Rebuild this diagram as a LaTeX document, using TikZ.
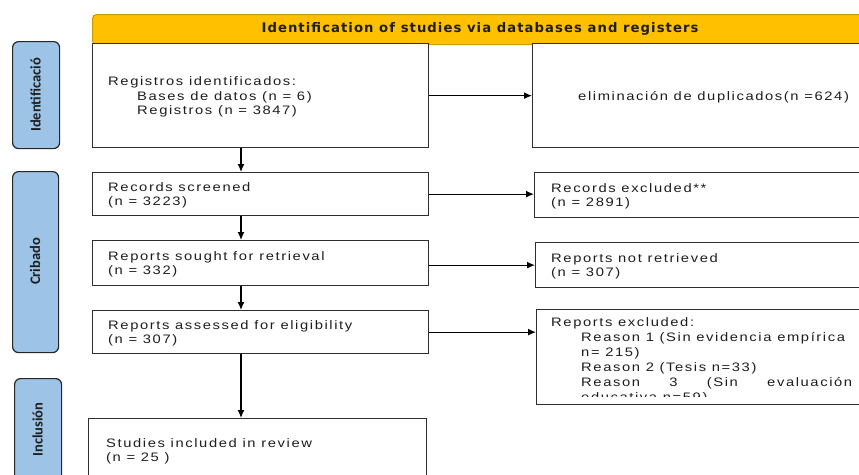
\documentclass[tikz,border=0pt]{standalone}
\usepackage{fontspec}
\setmainfont{Liberation Sans}
\newfontfamily\bodyf[LetterSpace=13,FakeStretch=1.2]{Liberation Sans}
\newfontfamily\headf[LetterSpace=8]{DejaVu Sans}
\newfontfamily\sidef{Carlito}
\usetikzlibrary{arrows.meta}
\definecolor{hdr}{HTML}{FFC000}
\definecolor{hdrb}{HTML}{C89B00}
\definecolor{sidec}{HTML}{9DC3E6}
\definecolor{bord}{HTML}{2E2E2E}
\definecolor{ink}{HTML}{1E1E1E}
\tikzset{
 boxst/.style={draw=bord, line width=1.3pt, fill=white, inner sep=0pt, anchor=north west},
 sidest/.style={draw=black!85, line width=1.2pt, fill=sidec, rounded corners=6pt, inner sep=0pt, anchor=north west},
 txt/.style={font=\bodyf\fontsize{12.3}{14}\selectfont, text=ink, inner sep=0pt, anchor=base west},
 arr/.style={-{Latex[length=8pt,width=7pt]}, line width=1.2pt, black},
 sidelab/.style={font=\sidef\bfseries\fontsize{14.5}{16}\selectfont, text=ink, rotate=90, inner sep=0pt}
}
\begin{document}
\begin{tikzpicture}[x=1pt,y=-1pt]
\useasboundingbox (0,0) rectangle (859,474);
\clip (0,0) rectangle (859,474);
% header
\node[draw=hdrb, line width=1pt, fill=hdr, rounded corners=4pt, minimum width=800pt, minimum height=30pt, inner sep=0pt, anchor=north west] (hd) at (92,14) {};
\node[font=\headf\bfseries\fontsize{13.2}{14}\selectfont, text=ink, inner sep=0pt] (ht) at (480,29) {Identification of studies via databases and registers};
% side bars
\node[sidest, minimum width=47pt, minimum height=107pt] (s1) at (12,41) {};
\node[sidest, minimum width=46pt, minimum height=181pt] (s2) at (12,171) {};
\node[sidest, minimum width=47pt, minimum height=112pt] (s3) at (14,378) {};
\node[sidelab] (l1) at (35.5,95) {Identificació};
\node[sidelab] (l2) at (35,261.5) {Cribado};
\node[sidelab] (l3) at (37.5,429.5) {Inclusión};
% boxes
\node[boxst, minimum width=336pt, minimum height=104pt] (b1) at (92,43) {};
\node[boxst, minimum width=348pt, minimum height=104pt] (elim) at (532,43) {};
\node[boxst, minimum width=336pt, minimum height=43pt] (scr) at (92,172) {};
\node[boxst, minimum width=346pt, minimum height=45pt] (rex) at (534,172) {};
\node[boxst, minimum width=336pt, minimum height=45pt] (sou) at (92,240) {};
\node[boxst, minimum width=345pt, minimum height=45pt] (nrt) at (535,242) {};
\node[boxst, minimum width=336pt, minimum height=43pt] (ass) at (92,310) {};
\node[boxst, minimum width=344pt, minimum height=95pt] (pex) at (536,309) {};
\node[boxst, minimum width=338pt, minimum height=72pt] (inc) at (88,418) {};
% texts
\node[txt] (t1a) at (108,85) {Registros identificados:};
\node[txt] (t1b) at (137,100) {Bases de datos (n = 6)};
\node[txt] (t1c) at (137,114) {Registros (n = 3847)};
\node[txt] (t2) at (578,100) {eliminación de duplicados(n =624)};
\node[txt] (t3a) at (108,191) {Records screened};
\node[txt] (t3b) at (108,205) {(n = 3223)};
\node[txt] (t4a) at (551,192) {Records excluded**};
\node[txt] (t4b) at (551,206) {(n = 2891)};
\node[txt] (t5a) at (108,260) {Reports sought for retrieval};
\node[txt] (t5b) at (108,274) {(n = 332)};
\node[txt] (t6a) at (551,262) {Reports not retrieved};
\node[txt] (t6b) at (551,276) {(n = 307)};
\node[txt] (t7a) at (108,329) {Reports assessed for eligibility};
\node[txt] (t7b) at (108,343) {(n = 307)};
\begin{scope}
\clip (537,310) rectangle (859,396);
\node[txt] (t8a) at (551,326) {Reports excluded:};
\node[txt] (t8b) at (581,341) {Reason 1 (Sin evidencia empírica};
\node[txt] (t8c) at (581,356) {n= 215)};
\node[txt] (t8d) at (581,371) {Reason 2 (Tesis n=33)};
\node[txt] (t8e) at (581,386) {\makebox[271pt][s]{Reason 3 (Sin evaluación}};
\node[txt] (t8f) at (581,401.5) {educativa n=59)};
\end{scope}
\node[txt] (t9a) at (106,447) {Studies included in review};
\node[txt] (t9b) at (106,461) {(n = 25 )};
% arrows
\coordinate (vx) at (241,0);
\draw[arr] (b1.east) -- (elim.west);
\draw[arr] (scr.east) -- (scr.east -| rex.west);
\draw[arr] (sou.east |- nrt.west) -- (nrt.west);
\draw[arr] (ass.east) -- (ass.east -| pex.west);
\draw[arr] (vx |- b1.south) -- (vx |- scr.north);
\draw[arr] (vx |- scr.south) -- (vx |- sou.north);
\draw[arr] (vx |- sou.south) -- (vx |- ass.north);
\draw[arr] (vx |- ass.south) -- (vx |- inc.north);
\end{tikzpicture}
\end{document}
